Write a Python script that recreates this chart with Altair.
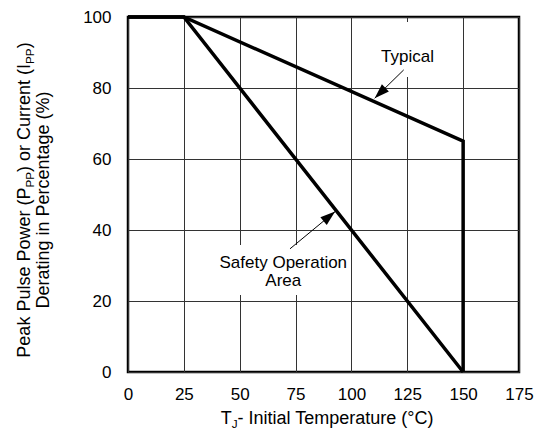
import math
import altair as alt
import pandas as pd

# ---- data ----
x_ticks = [0, 25, 50, 75, 100, 125, 150, 175]
y_ticks = [0, 20, 40, 60, 80, 100]

typ_x = [0, 25, 150, 150]
typ_y = [100, 100, 65, 0]
soa_x = [0, 25, 150]
soa_y = [100, 100, 0]

label_text = ["Typical", "Safety Operation", "Area"]
label_x = [125.1, 69.5, 69.5]
label_y = [87.4, 29.3, 24.1]

arrow_x1 = [123.4, 72.5]
arrow_y1 = [85.1, 34.7]
arrow_x2 = [110.4, 92.7]
arrow_y2 = [77.1, 45.2]

box_x1 = [111.5, 38.6]
box_x2 = [139.5, 98.2]
box_y1 = [83.1, 21.7]
box_y2 = [98.6, 35.8]

y_title_1 = [("Peak Pulse Power (P", False), ("PP", True), (") or Current (I", False), ("PP", True), (")", False)]
y_title_2 = [("Derating in Percentage (%)", False)]
x_title = [("T", False), ("J", True), ("\u00a0- Initial Temperature (°C)", False)]

# ---- layout ----
W, H = 391, 355
FONT = "Liberation Sans"
FS = 18
SUB = 0.65
SUBDY = 3.5

AW = {" ": 278, "\u00a0": 278, "(": 333, ")": 333, "-": 333, "%": 889, "°": 400,
      "C": 722, "D": 722, "I": 278, "J": 500, "P": 667, "T": 611,
      "a": 556, "c": 500, "e": 556, "g": 556, "i": 222, "k": 500, "l": 222,
      "m": 833, "n": 556, "o": 556, "p": 556, "r": 333, "s": 500, "t": 278,
      "u": 556, "w": 722, "y": 500}


def tw(s, fs):
    return sum(AW.get(c, 556) for c in s) * fs / 1000.0


def title_layers(segs, x, y, angle):
    sizes = [FS * SUB if sub else FS for _, sub in segs]
    total = sum(tw(s, f) for (s, _), f in zip(segs, sizes))
    pos = -total / 2.0
    out = []
    for (s, sub), f in zip(segs, sizes):
        out.append(
            alt.Chart(pd.DataFrame({"t": [s]})).mark_text(
                align="left", baseline="alphabetic", angle=angle, font=FONT,
                fontSize=f, color="black", dx=pos, dy=SUBDY if sub else 0,
            ).encode(text="t:N", x=alt.value(x), y=alt.value(y))
        )
        pos += tw(s, f)
    return out


xs = alt.Scale(domain=[0, 175], nice=False, zero=False)
ys = alt.Scale(domain=[0, 100], nice=False, zero=False)

line_df = pd.DataFrame({
    "x": typ_x + soa_x,
    "y": typ_y + soa_y,
    "s": ["Typical"] * len(typ_x) + ["SOA"] * len(soa_x),
    "o": list(range(len(typ_x))) + list(range(len(soa_x))),
})

sx, sy = W / 175.0, H / 100.0
arrow_df = pd.DataFrame({"x1": arrow_x1, "y1": arrow_y1, "x2": arrow_x2, "y2": arrow_y2})
arrow_df["ang"] = [
    math.degrees(math.atan2((b - a) * sx, (d - c) * sy)) % 360
    for a, b, c, d in zip(arrow_x1, arrow_x2, arrow_y1, arrow_y2)
]

box_df = pd.DataFrame({"x1": box_x1, "x2": box_x2, "y1": box_y1, "y2": box_y2})
label_df = pd.DataFrame({"t": label_text, "x": label_x, "y": label_y})

base_axis_x = alt.Axis(values=x_ticks, grid=True, gridColor="#333", gridWidth=1, domain=False,
                       ticks=False, tickSize=0, labelPadding=14, labelFont=FONT, labelFontSize=17,
                       labelColor="black", labelFlush=False, labelOverlap=False, title=None)
base_axis_y = alt.Axis(values=y_ticks, grid=True, gridColor="#333", gridWidth=1, domain=False,
                       ticks=False, tickSize=0, labelPadding=17, labelFont=FONT, labelFontSize=17,
                       labelColor="black", labelFlush=False, labelOverlap=False, title=None)

boxes = alt.Chart(box_df).mark_rect(color="white", opacity=1).encode(
    x=alt.X("x1:Q", scale=xs, axis=base_axis_x), x2="x2:Q",
    y=alt.Y("y1:Q", scale=ys, axis=base_axis_y), y2="y2:Q",
)

lines = alt.Chart(line_df).mark_line(color="black", strokeWidth=3.5, strokeJoin="miter").encode(
    x=alt.X("x:Q", scale=xs), y=alt.Y("y:Q", scale=ys),
    detail="s:N", order=alt.Order("o:Q"),
)

shafts = alt.Chart(arrow_df).mark_rule(color="black", strokeWidth=1).encode(
    x=alt.X("x1:Q", scale=xs), y=alt.Y("y1:Q", scale=ys), x2="x2:Q", y2="y2:Q",
)

heads = alt.Chart(arrow_df).mark_point(
    shape="M0,0L0.667,2L-0.667,2Z", filled=True, color="black", opacity=1, size=225, strokeWidth=0,
).encode(
    x=alt.X("x2:Q", scale=xs), y=alt.Y("y2:Q", scale=ys),
    angle=alt.Angle("ang:Q", scale=None),
)

labels = alt.Chart(label_df).mark_text(
    font=FONT, fontSize=17, color="black", align="center", baseline="alphabetic",
).encode(x=alt.X("x:Q", scale=xs), y=alt.Y("y:Q", scale=ys), text="t:N")

titles = (title_layers(y_title_1, -97.6, 183, 270)
          + title_layers(y_title_2, -78.6, 183, 270)
          + title_layers(x_title, 202.7, 407, 0))

chart = alt.layer(boxes, lines, shafts, heads, labels, *titles).properties(
    width=W, height=H,
    autosize=alt.AutoSizeParams(type="none"),
    padding={"left": 120, "top": 9, "right": 15, "bottom": 57},
).configure_view(stroke="black", strokeWidth=2.5)

chart.save("out.html", embed_options={"renderer": "svg", "actions": False})
